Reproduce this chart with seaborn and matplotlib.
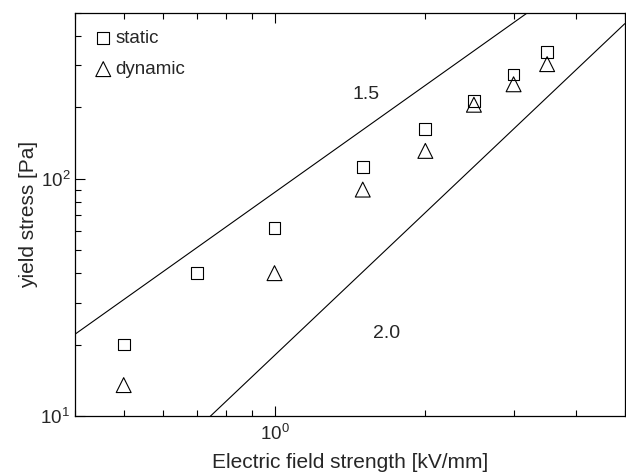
import numpy as np
import pandas as pd
import matplotlib
matplotlib.use("Agg")
import matplotlib.pyplot as plt
import seaborn as sns

field = [0.5, 0.7, 1.0, 1.5, 2.0, 2.5, 3.0, 3.5]
static = [20, 40, 62, 112, 162, 212, 275, 343]
field_dyn = [0.5, 1.0, 1.5, 2.0, 2.5, 3.0, 3.5]
dynamic = [13.5, 40, 90, 131, 205, 250, 304]

# power-law guide lines: y = A * E^n
fit_n = [1.5, 2.0]
fit_A = [87.5, 18.0]
fit_labels = ["1.5", "2.0"]
fit_label_pos = [(1.52, 226), (1.67, 22.3)]

sns.set_theme(style="ticks")
plt.rcParams['font.family'] = ['Liberation Sans', 'DejaVu Sans']
plt.rcParams['mathtext.fontset'] = 'custom'
plt.rcParams['mathtext.rm'] = 'Liberation Sans'

fig, ax = plt.subplots(figsize=(6.26, 4.76), dpi=100)

df_s = pd.DataFrame({"E": field, "tau": static})
df_d = pd.DataFrame({"E": field_dyn, "tau": dynamic})

sns.scatterplot(data=df_s, x="E", y="tau", marker="s", s=72,
                facecolors="none", edgecolor="black", linewidth=0.8,
                label="static", ax=ax)
sns.scatterplot(data=df_d, x="E", y="tau", marker="^", s=115,
                facecolors="none", edgecolor="black", linewidth=0.8,
                label="dynamic", ax=ax)

xx = np.array([0.4, 5.0])
for n, A in zip(fit_n, fit_A):
    ax.plot(xx, A * xx ** n, color="black", lw=0.8)
for lab, (x, y) in zip(fit_labels, fit_label_pos):
    ax.text(x, y, lab, fontsize=14, ha="center", va="center")

ax.set_xscale("log")
ax.set_yscale("log")
ax.set_xlim(0.4, 5.0)
ax.set_ylim(10, 500)

ax.set_xlabel("Electric field strength [kV/mm]", fontsize=15, labelpad=6)
ax.set_ylabel("yield stress [Pa]", fontsize=15, labelpad=2)
ax.tick_params(which="both", direction="in", top=True, right=False,
               labelsize=13.5, color="black")
ax.tick_params(which="major", length=7, width=0.8)
ax.tick_params(which="minor", length=4, width=0.8)
ax.tick_params(axis="x", which="major", pad=6)
ax.xaxis.set_minor_formatter(matplotlib.ticker.NullFormatter())
for sp in ax.spines.values():
    sp.set_linewidth(0.9)
    sp.set_color("black")

leg = ax.legend(loc="upper left", frameon=False, fontsize=13.5,
                handletextpad=0.05, handlelength=1.2, labelspacing=0.75,
                borderaxespad=0.5)

fig.subplots_adjust(left=0.12, right=0.998, top=0.973, bottom=0.126)
fig.savefig("out.png", dpi=100)
